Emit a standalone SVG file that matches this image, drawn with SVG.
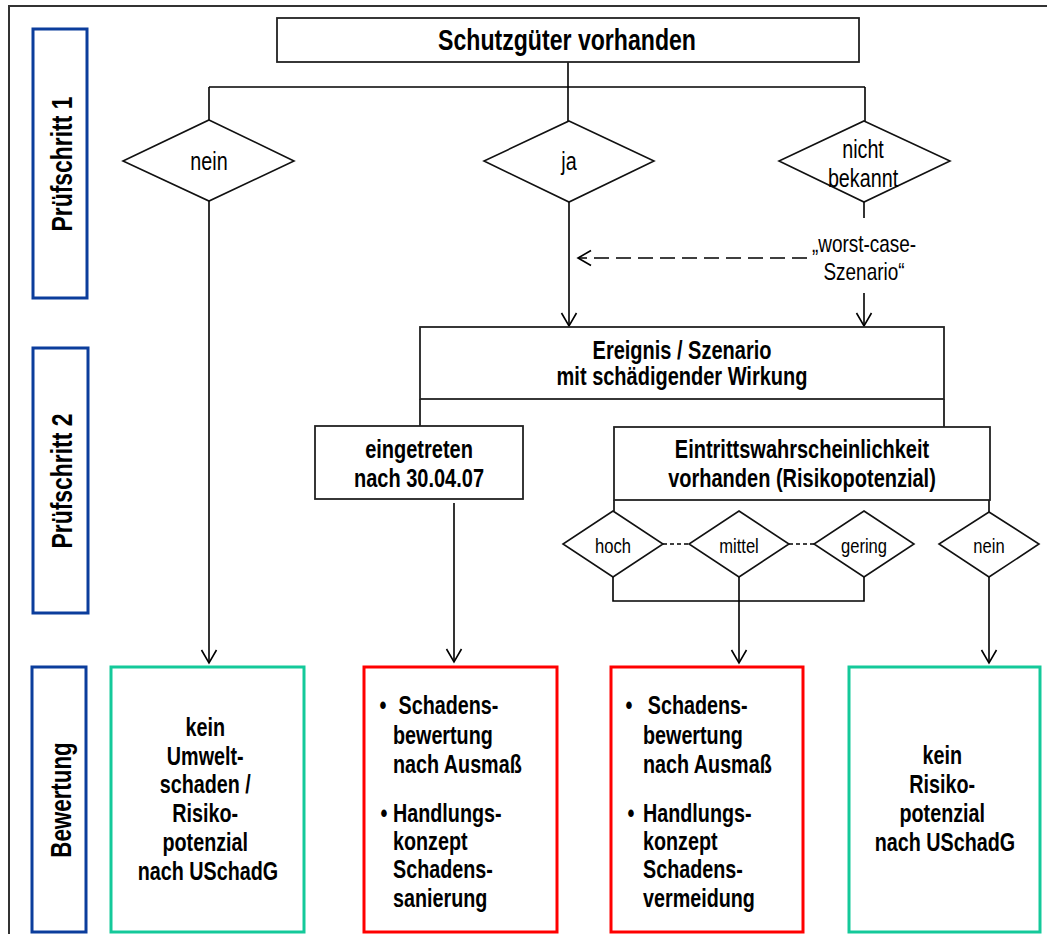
<svg xmlns="http://www.w3.org/2000/svg" width="1047" height="934" viewBox="0 0 1047 934">
<defs>
<style>
.t{font-family:"Liberation Sans",Arial,sans-serif;fill:#000}
.b{font-weight:bold}
.c{text-anchor:middle}
.box{fill:#fff;stroke:#222;stroke-width:1.8}
.lane{fill:#fff;stroke:#0b3d9c;stroke-width:3}
.green{fill:#fff;stroke:#14c99a;stroke-width:3}
.red{fill:#fff;stroke:#ff0000;stroke-width:3}
.dia{fill:#fff;stroke:#111;stroke-width:1.6}
.ln{fill:none;stroke:#000;stroke-width:1.6}
.arr{marker-end:url(#arr)}
</style>
<marker id="arr" markerUnits="userSpaceOnUse" markerWidth="16" markerHeight="20" viewBox="-14 -10 16 20" refX="0" refY="0" orient="auto" overflow="visible">
<path d="M-13,-7.5 L0,0 L-13,7.5" fill="none" stroke="#000" stroke-width="1.6"/>
</marker>
</defs>
<rect width="1047" height="934" fill="#fff"/>
<path d="M9,934 V6 H1047" fill="none" stroke="#333" stroke-width="2"/>

<g id="connectors">
<path class="ln" d="M568,62 V121"/>
<path class="ln" d="M209,87 H865"/>
<path class="ln" d="M209,87 V120"/>
<path class="ln" d="M865,87 V121"/>
<path class="ln arr" d="M209,201 V663"/>
<path class="ln arr" d="M569,202 V326"/>
<path class="ln" d="M864,202 V218"/>
<path class="ln arr" d="M807,258 H578" stroke-dasharray="15,7"/>
<path class="ln arr" d="M864,293 V326"/>
<path class="ln" d="M420,399 V426"/>
<path class="ln" d="M944,399 V427"/>
<path class="ln arr" d="M454,503 V662"/>
<path class="ln" d="M614,500 V511"/>
<path class="ln" d="M989,500 V512"/>
<path class="ln" d="M663,544 H689" stroke-dasharray="4,3"/>
<path class="ln" d="M789,544 H814" stroke-dasharray="4,3"/>
<path class="ln" d="M613,577 V601 H864 V577"/>
<path class="ln arr" d="M739,577 V663"/>
<path class="ln arr" d="M989,577 V663"/>
</g>

<g id="lane1">
<rect class="lane" x="33" y="29" width="54" height="269"/>
<text class="t b c" font-size="29" transform="translate(72,164) rotate(-90) scale(0.79,1)">Prüfschritt 1</text>
</g>
<g id="lane2">
<rect class="lane" x="33" y="348" width="55" height="265"/>
<text class="t b c" font-size="29" transform="translate(72,481) rotate(-90) scale(0.79,1)">Prüfschritt 2</text>
</g>
<g id="lane3">
<rect class="lane" x="32" y="667" width="54" height="265"/>
<text class="t b c" font-size="29" transform="translate(71,800) rotate(-90) scale(0.77,1)">Bewertung</text>
</g>

<g id="schutzgueter">
<rect class="box" x="277" y="18" width="582" height="44"/>
<text class="t b c" font-size="30" transform="translate(567,50) scale(0.77,1)">Schutzgüter vorhanden</text>
</g>

<g id="d-nein">
<polygon class="dia" points="209,120 294,161 209,201 123,161"/>
<text class="t c" font-size="25" transform="translate(209,170) scale(0.79,1)">nein</text>
</g>
<g id="d-ja">
<polygon class="dia" points="569,121 654,161 569,202 484,161"/>
<text class="t c" font-size="25" transform="translate(569,170) scale(0.79,1)">ja</text>
</g>
<g id="d-nichtbekannt">
<polygon class="dia" points="864,121 950,161 864,202 779,161"/>
<text class="t c" font-size="25" transform="translate(863,0) scale(0.79,1)"><tspan x="0" y="158">nicht</tspan><tspan x="0" y="187">bekannt</tspan></text>
</g>

<g id="worstcase">
<text class="t c" font-size="24" transform="translate(864,0) scale(0.79,1)"><tspan x="0" y="252">„worst-case-</tspan><tspan x="0" y="280">Szenario“</tspan></text>
</g>

<g id="ereignis">
<rect class="box" x="420" y="327" width="524" height="72"/>
<text class="t b c" font-size="25" transform="translate(682,0) scale(0.8,1)"><tspan x="0" y="359">Ereignis / Szenario</tspan><tspan x="0" y="385">mit schädigender Wirkung</tspan></text>
</g>

<g id="eingetreten">
<rect class="box" x="315" y="426" width="208" height="73"/>
<text class="t b c" font-size="25" transform="translate(419,0) scale(0.8,1)"><tspan x="0" y="458">eingetreten</tspan><tspan x="0" y="487">nach 30.04.07</tspan></text>
</g>

<g id="eintritt">
<rect class="box" x="614" y="427" width="376" height="73"/>
<text class="t b c" font-size="25" transform="translate(802,0) scale(0.8,1)"><tspan x="0" y="458">Eintrittswahrscheinlichkeit</tspan><tspan x="0" y="487">vorhanden (Risikopotenzial)</tspan></text>
</g>

<g id="d-hoch">
<polygon class="dia" points="613,511 663,544 613,577 563,544"/>
<text class="t c" font-size="21" transform="translate(613,553) scale(0.79,1)">hoch</text>
</g>
<g id="d-mittel">
<polygon class="dia" points="739,511 789,544 739,577 689,544"/>
<text class="t c" font-size="21" transform="translate(739,553) scale(0.79,1)">mittel</text>
</g>
<g id="d-gering">
<polygon class="dia" points="864,511 914,544 864,577 814,544"/>
<text class="t c" font-size="21" transform="translate(864,553) scale(0.79,1)">gering</text>
</g>
<g id="d-nein2">
<polygon class="dia" points="989,512 1039,544 989,577 939,544"/>
<text class="t c" font-size="21" transform="translate(989,553) scale(0.79,1)">nein</text>
</g>

<g id="bew1">
<rect class="green" x="111" y="667" width="193" height="265"/>
<text class="t b c" font-size="25" transform="translate(208,0) scale(0.79,1)">
<tspan x="0" y="736">kein</tspan>
<tspan x="0" y="765">Umwelt-</tspan>
<tspan x="0" y="793">schaden /</tspan>
<tspan x="0" y="822">Risiko-</tspan>
<tspan x="0" y="851">potenzial</tspan>
<tspan x="0" y="880">nach USchadG</tspan>
</text>
</g>

<g id="bew2">
<rect class="red" x="364" y="667" width="193" height="265"/>
<text class="t b c" font-size="25" transform="translate(383,714) scale(0.79,1)">•</text>
<text class="t b c" font-size="25" transform="translate(384,822) scale(0.79,1)">•</text>
<text class="t b" font-size="25" transform="translate(393,0) scale(0.79,1)">
<tspan x="7" y="714">Schadens-</tspan>
<tspan x="0" y="744">bewertung</tspan>
<tspan x="0" y="773">nach Ausmaß</tspan>
<tspan x="0" y="822">Handlungs-</tspan>
<tspan x="0" y="850">konzept</tspan>
<tspan x="0" y="878">Schadens-</tspan>
<tspan x="0" y="907">sanierung</tspan>
</text>
</g>

<g id="bew3">
<rect class="red" x="611" y="667" width="192" height="265"/>
<text class="t b c" font-size="25" transform="translate(629,714) scale(0.79,1)">•</text>
<text class="t b c" font-size="25" transform="translate(631,822) scale(0.79,1)">•</text>
<text class="t b" font-size="25" transform="translate(643,0) scale(0.79,1)">
<tspan x="6" y="714">Schadens-</tspan>
<tspan x="0" y="744">bewertung</tspan>
<tspan x="0" y="773">nach Ausmaß</tspan>
<tspan x="0" y="822">Handlungs-</tspan>
<tspan x="0" y="850">konzept</tspan>
<tspan x="0" y="878">Schadens-</tspan>
<tspan x="0" y="907">vermeidung</tspan>
</text>
</g>

<g id="bew4">
<rect class="green" x="849" y="667" width="191" height="265"/>
<text class="t b c" font-size="25" transform="translate(945,0) scale(0.79,1)">
<tspan x="0" y="764">kein</tspan>
<tspan x="0" y="793">Risiko-</tspan>
<tspan x="0" y="822">potenzial</tspan>
<tspan x="0" y="851">nach USchadG</tspan>
</text>
</g>
</svg>
